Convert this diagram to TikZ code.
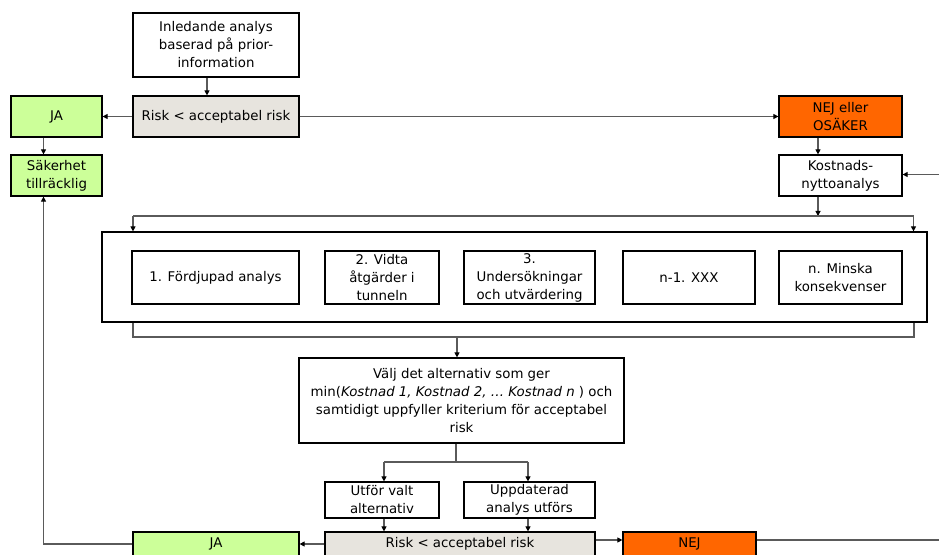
\documentclass[tikz,border=0pt]{standalone}
\usepackage{fontspec}
\setmainfont{DejaVu Sans}
\usetikzlibrary{arrows.meta}
\definecolor{boxgray}{HTML}{E7E4DE}
\definecolor{okgreen}{HTML}{CCFF99}
\definecolor{warnorange}{HTML}{FF6600}
\definecolor{linegray}{HTML}{5A5A5A}
\def\pxu{0.75pt}
\begin{document}
\begin{tikzpicture}[x=0.75pt,y=-0.75pt,
  font=\fontsize{10}{13.5}\selectfont,
  box/.style={draw=black, line width=0.9pt, fill=white, align=center, inner sep=0pt},
  gbox/.style={box, fill=boxgray},
  yesbox/.style={box, fill=okgreen},
  nobox/.style={box, fill=warnorange},
  conn/.style={draw=linegray, line width=0.8pt},
  arr/.style={conn, -{Triangle[length=3.8pt, width=3.8pt, color=black]}}]
\useasboundingbox (0,0) rectangle (939,554);
\clip (0,0) rectangle (939,554);

% top decision row
\node[box, minimum width=166*\pxu, minimum height=64*\pxu] (ini) at (216,45) {Inledande analys\\baserad på prior-\\information};
\node[gbox, minimum width=166*\pxu, minimum height=41*\pxu] (risk1) at (216,116.5) {Risk < acceptabel risk};
\node[yesbox, minimum width=91*\pxu, minimum height=41*\pxu] (ja1) at (56.5,116.5) {JA};
\node[yesbox, minimum width=91*\pxu, minimum height=41*\pxu] (sak) at (56.5,175.5) {Säkerhet\\tillräcklig};
\node[nobox, minimum width=123*\pxu, minimum height=41*\pxu] (nej1) at (840.5,116.5) {NEJ eller\\OSÄKER};
\node[box, minimum width=123*\pxu, minimum height=41*\pxu] (kost) at (840.5,175.5) {Kostnads-\\nyttoanalys};

% alternatives
\node[box, minimum width=825*\pxu, minimum height=90*\pxu] (alts) at (514.5,277) {};
\node[box, minimum width=167*\pxu, minimum height=53*\pxu] (alt1) at (215.5,277.5) {1. Fördjupad analys};
\node[box, minimum width=114*\pxu, minimum height=53*\pxu] (alt2) at (382,277.5) {2. Vidta\\åtgärder i\\tunneln};
\node[box, minimum width=131*\pxu, minimum height=53*\pxu] (alt3) at (529.5,277.5) {3.\\Undersökningar\\och utvärdering};
\node[box, minimum width=132*\pxu, minimum height=53*\pxu] (altn1) at (689,277.5) {n-1. XXX};
\node[box, minimum width=123*\pxu, minimum height=53*\pxu] (altn) at (840.5,277.5) {n. Minska\\konsekvenser};

% choice and follow-up
\node[box, minimum width=325*\pxu, minimum height=85*\pxu] (valj) at (461.5,400.5) {Välj det alternativ som ger\\min(\textit{Kostnad 1, Kostnad 2, … Kostnad n} ) och\\samtidigt uppfyller kriterium för acceptabel\\risk};
\node[box, minimum width=114*\pxu, minimum height=36*\pxu] (utf) at (382,500) {Utför valt\\alternativ};
\node[box, minimum width=131*\pxu, minimum height=36*\pxu] (upp) at (529.5,500) {Uppdaterad\\analys utförs};

% bottom decision row
\node[gbox, minimum width=270*\pxu, minimum height=24*\pxu] (risk2) at (460,544) {Risk < acceptabel risk};
\node[yesbox, minimum width=166*\pxu, minimum height=24*\pxu] (ja2) at (216,544) {JA};
\node[nobox, minimum width=133*\pxu, minimum height=24*\pxu] (nej2) at (689.5,544) {NEJ};

% routing points
\coordinate (cIni) at (207,0);
\coordinate (cL) at (43.5,0);
\coordinate (cK) at (818,0);
\coordinate (rin) at (939,174.5);
\coordinate (busTL) at (133,216);
\coordinate (busTR) at (913.5,216);
\coordinate (busBL) at (133,337);
\coordinate (busBR) at (914,337);
\coordinate (busBM) at (457,337);
\coordinate (forkM) at (456,462);
\coordinate (forkL) at (384,462);
\coordinate (forkR) at (528,462);
\coordinate (rowN) at (0,540);
\coordinate (rout) at (939,540);

% connectors
\draw[arr] (ini.south -| cIni) -- (risk1.north -| cIni);
\draw[arr] (risk1.west) -- (ja1.east);
\draw[arr] (ja1.south -| cL) -- (sak.north -| cL);
\draw[arr] (risk1.east) -- (nej1.west);
\draw[arr] (nej1.south -| cK) -- (kost.north -| cK);
\draw[arr] (rin) -- (rin -| kost.east);
\draw[arr] (kost.south -| cK) -- (busTL -| cK);
\draw[conn] (busTL) -- (busTR);
\draw[arr] (busTL) -- (busTL |- alts.north);
\draw[arr] (busTR) -- (busTR |- alts.north);
\draw[conn] (alts.south -| busBL) -- (busBL) -- (busBR) -- (alts.south -| busBR);
\draw[arr] (busBM) -- (busBM |- valj.north);
\draw[conn] (valj.south -| forkM) -- (forkM);
\draw[conn] (forkL) -- (forkR);
\draw[arr] (forkL) -- (forkL |- utf.north);
\draw[arr] (forkR) -- (forkR |- upp.north);
\draw[arr] (utf.south -| forkL) -- (risk2.north -| forkL);
\draw[arr] (upp.south -| forkR) -- (risk2.north -| forkR);
\draw[arr] (risk2.west) -- (ja2.east);
\draw[arr] (risk2.east |- rowN) -- (nej2.west |- rowN);
\draw[conn] (nej2.east |- rowN) -- (rout);
\draw[arr] (ja2.west) -| (sak.south -| cL);
\end{tikzpicture}
\end{document}
